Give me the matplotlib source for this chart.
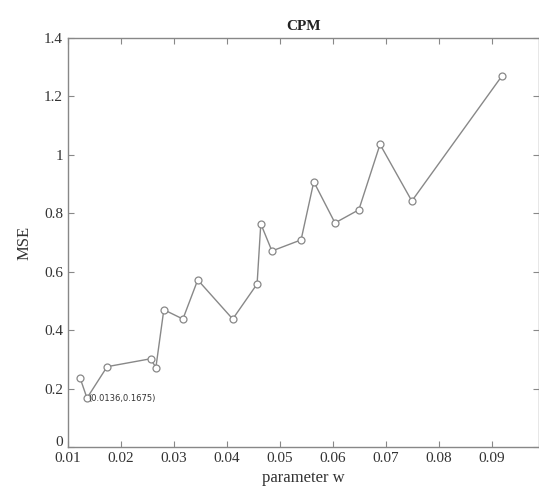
import matplotlib
matplotlib.use("Agg")
from matplotlib import pyplot as plt
from matplotlib.transforms import ScaledTranslation

# parameter w vs MSE for CPM
w = [0.0123, 0.0136, 0.0174, 0.0256, 0.0266, 0.0281, 0.0317, 0.0345, 0.0411,
     0.0457, 0.0464, 0.0485, 0.0540, 0.0564, 0.0604, 0.0649, 0.0689, 0.0749, 0.0919]
mse = [0.236, 0.1675, 0.275, 0.302, 0.272, 0.470, 0.438, 0.572, 0.438,
       0.558, 0.764, 0.671, 0.709, 0.908, 0.767, 0.812, 1.036, 0.842, 1.27]
x_ticks = [0.01, 0.02, 0.03, 0.04, 0.05, 0.06, 0.07, 0.08, 0.09]
x_tick_labels = ["0.01", "0.02", "0.03", "0.04", "0.05", "0.06", "0.07", "0.08", "0.09"]
y_ticks = [0, 0.2, 0.4, 0.6, 0.8, 1.0, 1.2, 1.4]
y_tick_labels = ["0", "0.2", "0.4", "0.6", "0.8", "1", "1.2", "1.4"]
tip_label = "(0.0136,0.1675)"

plt.rcParams['font.family'] = ['Liberation Serif', 'DejaVu Serif']
grey = "#888888"

fig = plt.figure(figsize=(5.39, 4.97), dpi=100)
ax = fig.add_axes([0.126, 0.1006, 0.874, 0.8229])

ax.plot(w, mse, color=grey, linewidth=1.0, marker="o", markersize=5,
        markerfacecolor="white", markeredgecolor=grey, markeredgewidth=0.9)

ax.text(w[1] + 0.0002, mse[1], tip_label, fontsize=6, family="DejaVu Sans",
        color="#333333", va="center", ha="left")

ax.set_xlim(0.01, 0.0989)
ax.set_ylim(0, 1.4)
ax.set_xticks(x_ticks)
ax.set_xticklabels(x_tick_labels)
ax.set_yticks(y_ticks)
ax.set_yticklabels(y_tick_labels)
ax.tick_params(direction="in", top=True, right=True, length=4, color=grey,
               labelsize=11, labelcolor="#333333")
for s in ax.spines.values():
    s.set_color(grey)
    s.set_linewidth(1.0)

# nudge the "0" label up a little so it doesn't sit on "0.01"
zero_lbl = ax.get_yticklabels()[0]
zero_lbl.set_transform(zero_lbl.get_transform() + ScaledTranslation(0, 4 / 72, fig.dpi_scale_trans))

ax.set_title("CPM", fontsize=11, fontweight="bold", color="#222222", pad=6)
ax.set_xlabel("parameter w", fontsize=12, color="#333333", labelpad=4)
ax.set_ylabel("MSE", fontsize=12, color="#333333", labelpad=8)

fig.savefig("out.png", dpi=100)
